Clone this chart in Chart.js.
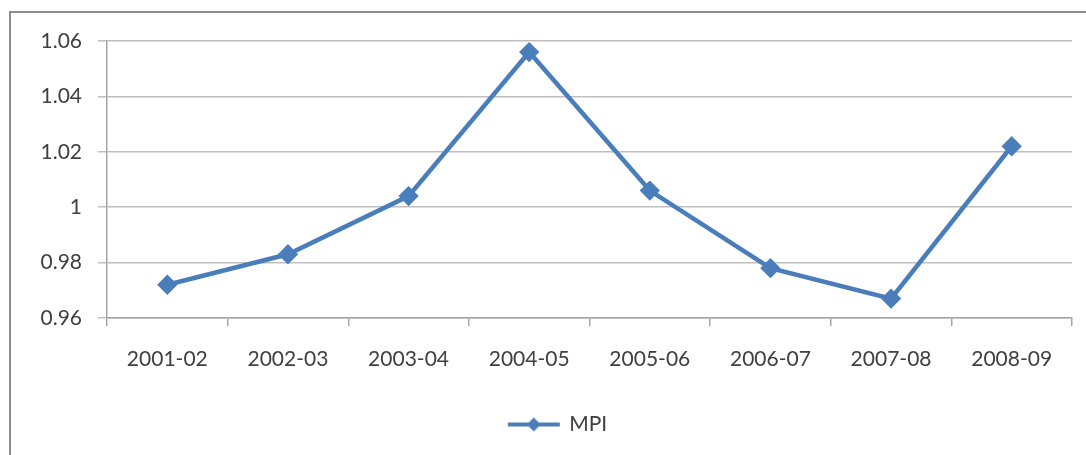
<!DOCTYPE html>
<html>
<head>
<meta charset="utf-8">
<script src="https://cdn.jsdelivr.net/npm/chart.js@4"></script>
<style>
  html, body { margin: 0; padding: 0; background: #fff; }
  #wrap { width: 1086px; height: 455px; position: relative; }
</style>
</head>
<body>
<div id="wrap"><canvas id="myChart"></canvas></div>
<script>
const years = ["2001-02", "2002-03", "2003-04", "2004-05", "2005-06", "2006-07", "2007-08", "2008-09"];
const mpi = [0.972, 0.983, 1.004, 1.056, 1.006, 0.978, 0.967, 1.022];
const yTicks = [0.96, 0.98, 1, 1.02, 1.04, 1.06];

const blue = "#4a7ebb";
const fontFam = "Lato, 'Open Sans', sans-serif";

// legend marker: short line with a diamond in the middle
const legendIcon = document.createElement("canvas");
legendIcon.width = 54;
legendIcon.height = 16;
(function () {
  const c = legendIcon.getContext("2d");
  c.strokeStyle = blue;
  c.lineWidth = 4;
  c.beginPath();
  c.moveTo(1, 8);
  c.lineTo(53, 8);
  c.stroke();
  c.fillStyle = blue;
  c.beginPath();
  c.moveTo(27, 1);
  c.lineTo(34, 8);
  c.lineTo(27, 15);
  c.lineTo(20, 8);
  c.closePath();
  c.fill();
})();

// outer grey frame of the chart object
const framePlugin = {
  id: "frame",
  beforeDraw(chart) {
    const ctx = chart.ctx;
    ctx.save();
    ctx.strokeStyle = "#8c8c8c";
    ctx.lineWidth = 2;
    ctx.strokeRect(10, 12, 1200, 600);
    ctx.restore();
  },
  // the original legend sits a bit right of the plot centre
  afterLayout(chart) {
    if (chart.legend) {
      chart.legend.left += 22;
      chart.legend.right += 22;
    }
  }
};

new Chart(document.getElementById("myChart").getContext("2d"), {
  type: "line",
  data: {
    labels: years,
    datasets: [
      {
        label: "MPI",
        data: mpi,
        borderColor: blue,
        backgroundColor: blue,
        borderWidth: 4.5,
        pointStyle: "rectRot",
        pointRadius: 7,
        pointHoverRadius: 7,
        tension: 0,
        fill: false
      }
    ]
  },
  options: {
    responsive: true,
    maintainAspectRatio: false,
    animation: false,
    layout: { padding: { left: 0, right: 14, top: 41, bottom: 10 } },
    plugins: {
      tooltip: { enabled: false },
      legend: {
        position: "bottom",
        labels: {
          usePointStyle: true,
          pointStyleWidth: 50,
          padding: 10,
          color: "#404040",
          font: { family: fontFam, size: 21 },
          generateLabels(chart) {
            return [{
              text: "MPI",
              pointStyle: legendIcon,
              fillStyle: blue,
              strokeStyle: blue,
              lineWidth: 0,
              datasetIndex: 0,
              fontColor: "#404040"
            }];
          }
        }
      }
    },
    scales: {
      x: {
        offset: true,
        grid: {
          offset: true,
          drawOnChartArea: false,
          color: "#a6a6a6",
          tickLength: 8,
          lineWidth: 1.5
        },
        border: { color: "#a6a6a6", width: 1.5 },
        ticks: {
          padding: 21,
          color: "#404040",
          maxRotation: 0,
          font: { family: fontFam, size: 21 }
        },
        afterFit(scale) { scale.height = 86; }
      },
      y: {
        min: 0.96,
        max: 1.06,
        afterBuildTicks(scale) {
          scale.ticks = yTicks.map(v => ({ value: v }));
        },
        grid: {
          color: "#bfbfbf",
          lineWidth: 1.5,
          tickLength: 9
        },
        border: { color: "#a6a6a6", width: 1.5 },
        ticks: {
          padding: 16,
          color: "#404040",
          font: { family: fontFam, size: 21 },
          callback: v => String(v)
        },
        afterFit(scale) { scale.width = 107; }
      }
    }
  },
  plugins: [framePlugin]
});
</script>
</body>
</html>
